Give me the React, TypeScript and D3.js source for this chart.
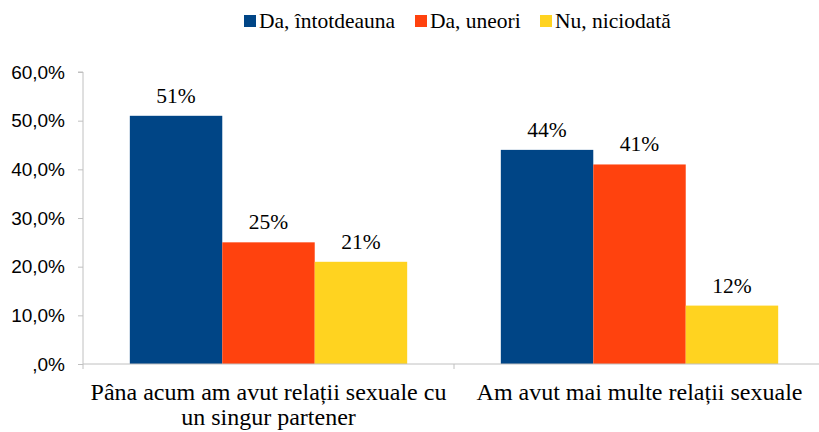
import React, {useRef, useEffect} from 'react';
import * as d3 from 'd3';

const categories = ['Pâna acum am avut relații sexuale cu un singur partener', 'Am avut mai multe relații sexuale'];
const seriesNames = ['Da, întotdeauna', 'Da, uneori', 'Nu, niciodată'];
const seriesColors = ['#004586', '#ff420e', '#ffd320'];
// valori în procente, pe categorie
const seriesAlways = [51, 44];
const seriesSometimes = [25, 41];
const seriesNever = [21, 12];
const yTicks = [0, 10, 20, 30, 40, 50, 60];

const WIDTH = 819;
const HEIGHT = 432;

const App: React.FC = () => {
    const svgRef = useRef<SVGSVGElement>(null);

    useEffect(() => {
        if (!svgRef.current) return;
        const svg = d3.select(svgRef.current);
        svg.selectAll('*').remove();

        const series = [seriesAlways, seriesSometimes, seriesNever];
        const margin = {left: 83, right: -6, top: 72, bottom: 68};

        const x0 = d3.scaleBand<string>()
            .domain(categories)
            .range([margin.left, WIDTH - margin.right])
            .paddingInner(0)
            .paddingOuter(0);

        const x1 = d3.scaleBand<string>()
            .domain(seriesNames)
            .range([0, x0.bandwidth()])
            .paddingOuter(0.5065);

        const y = d3.scaleLinear()
            .domain([0, 60])
            .range([HEIGHT - margin.bottom, margin.top]);

        // axa Y
        const yAxis = svg.append('g')
            .attr('transform', `translate(${margin.left},0)`)
            .call(d3.axisLeft(y)
                .tickValues(yTicks)
                .tickSize(5)
                .tickPadding(13)
                .tickFormat(d => (+d === 0 ? ',0%' : `${(+d).toFixed(1).replace('.', ',')}%`)));
        yAxis.select('.domain').attr('stroke', '#c0c0c0').attr('d', `M-5,${y(60)}H0V${y(0)}`);
        yAxis.selectAll('.tick line').attr('stroke', '#c0c0c0');
        yAxis.selectAll('.tick text')
            .attr('fill', '#000')
            .style('font-family', '"Liberation Sans", Arial, sans-serif')
            .style('font-size', '19px');

        // bare
        const groups = svg.append('g')
            .selectAll('g')
            .data(categories)
            .join('g')
            .attr('transform', d => `translate(${x0(d)},0)`);

        groups.each(function (cat, ci) {
            const g = d3.select(this);
            seriesNames.forEach((name, si) => {
                const v = series[si][ci];
                g.append('rect')
                    .attr('x', x1(name)!)
                    .attr('y', y(v))
                    .attr('width', x1.bandwidth())
                    .attr('height', y(0) - y(v))
                    .attr('fill', seriesColors[si]);
                g.append('text')
                    .attr('x', x1(name)! + x1.bandwidth() / 2)
                    .attr('y', y(v) - 13)
                    .attr('text-anchor', 'middle')
                    .style('font-family', '"Liberation Serif", "Times New Roman", serif')
                    .style('font-size', '21.5px')
                    .text(`${v}%`);
            });
        });

        // axa X
        const xAxis = svg.append('g')
            .attr('transform', `translate(0,${y(0)})`);
        xAxis.append('line')
            .attr('x1', margin.left)
            .attr('x2', WIDTH - margin.right)
            .attr('stroke', '#c0c0c0');
        const bounds = [x0.range()[0], ...categories.map(c => x0(c)! + x0.bandwidth())];
        bounds.forEach(b => {
            xAxis.append('line')
                .attr('x1', b).attr('x2', b)
                .attr('y1', 0).attr('y2', 5)
                .attr('stroke', '#c0c0c0');
        });

        // etichete categorii, cu rupere pe rânduri
        categories.forEach(cat => {
            const cx = x0(cat)! + x0.bandwidth() / 2;
            const t = svg.append('text')
                .attr('x', cx)
                .attr('y', y(0) + 36)
                .attr('text-anchor', 'middle')
                .style('font-family', '"Liberation Serif", "Times New Roman", serif')
                .style('font-size', '24px');
            const words = cat.split(' ');
            let line: string[] = [];
            let tspan = t.append('tspan').attr('x', cx).attr('dy', 0);
            words.forEach(w => {
                line.push(w);
                tspan.text(line.join(' '));
                if ((tspan.node() as SVGTSpanElement).getComputedTextLength() > x0.bandwidth() - 8 && line.length > 1) {
                    line.pop();
                    tspan.text(line.join(' '));
                    line = [w];
                    tspan = t.append('tspan')
                        .attr('x', cx)
                        .attr('dy', 25)
                        .text(w);
                }
            });
        });

        // legenda
        const legendX = [244, 415, 540];
        const legend = svg.append('g');
        seriesNames.forEach((name, i) => {
            legend.append('rect')
                .attr('x', legendX[i])
                .attr('y', 15)
                .attr('width', 12)
                .attr('height', 12)
                .attr('fill', seriesColors[i]);
            legend.append('text')
                .attr('x', legendX[i] + 15)
                .attr('y', 28)
                .style('font-family', '"Liberation Serif", "Times New Roman", serif')
                .style('font-size', '21.5px')
                .text(name);
        });
    }, []);

    return (
        <svg
            ref={svgRef}
            width={WIDTH}
            height={HEIGHT}
            viewBox={`0 0 ${WIDTH} ${HEIGHT}`}
            style={{position: 'absolute', left: 0, top: 0, background: '#fff', display: 'block'}}
        />
    );
};

export default App;
